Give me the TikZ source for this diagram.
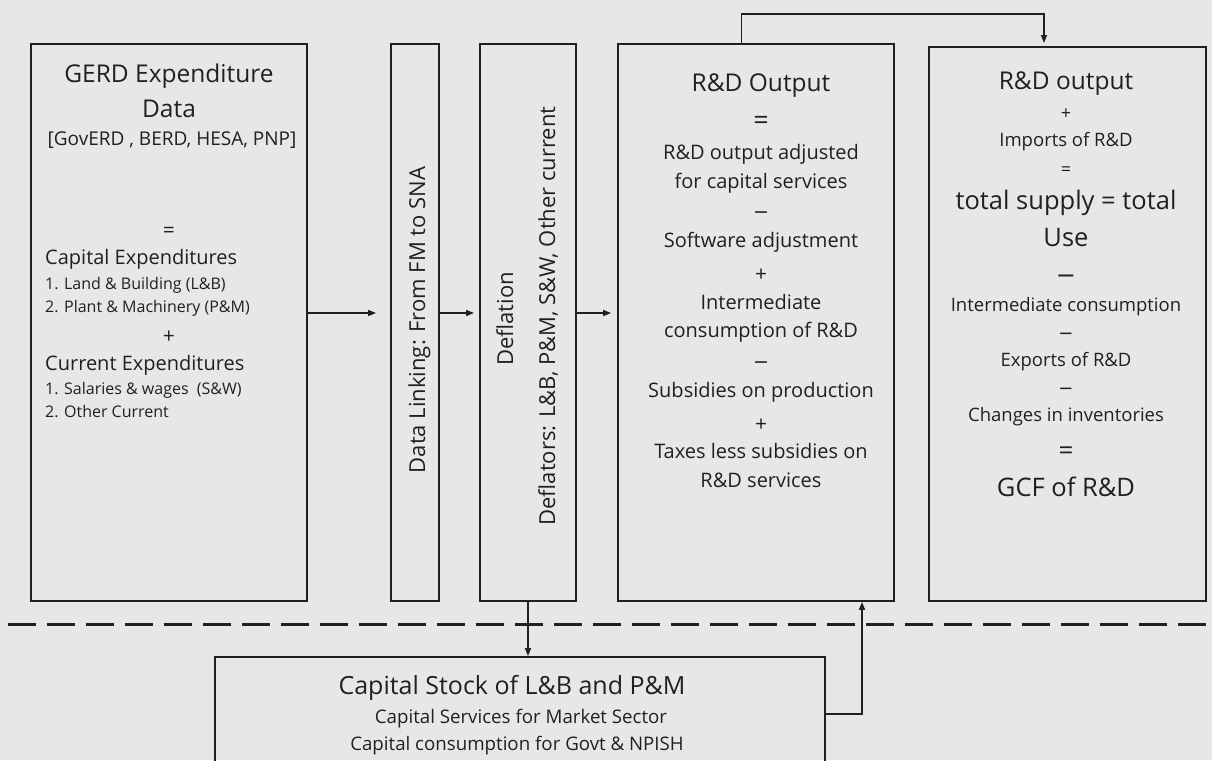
\documentclass[tikz,border=0pt]{standalone}
\usepackage{fontspec}
\setmainfont{Open Sans}
\newfontfamily\symfont{DejaVu Sans}
\usetikzlibrary{arrows.meta}
\definecolor{bg}{HTML}{E6E7E8}
\definecolor{ink}{HTML}{231F20}
\newcommand{\mns}{{\symfont\symbol{"2212}}}
\begin{document}
\begin{tikzpicture}[x=1pt,y=-1pt,
  box/.style={draw=ink, line width=1.9pt, inner sep=0pt, rectangle},
  txt/.style={anchor=base, inner sep=0pt, text=ink, font=\fontsize{#1}{#1}\selectfont},
  rtxt/.style={txt=#1, rotate=90},
  arr/.style={draw=ink, line width=1.4pt, -{Triangle[length=8pt,width=6pt]}},
  dashline/.style={draw=ink, line width=3pt, dash pattern=on 28pt off 11pt}]
\useasboundingbox (0,0) rectangle (1212,760);
\clip (0,0) rectangle (1212,760);
\fill[bg] (0,0) rectangle (1212,760);

% boxes
\node[box, minimum width=276pt, minimum height=557pt] (gerd) at (169,322.5) {};
\node[box, minimum width=48pt,  minimum height=557pt] (link) at (415,322.5) {};
\node[box, minimum width=96pt,  minimum height=557pt] (defl) at (528,322.5) {};
\node[box, minimum width=276pt, minimum height=557pt] (rdout) at (756,322.5) {};
\node[box, minimum width=277pt, minimum height=554pt] (rduse) at (1067.5,324) {};
\node[box, minimum width=610pt, minimum height=143pt] (cap) at (520,728.5) {};

% GERD box text
\node[txt=24.5] (g1) at (169,82) {GERD Expenditure};
\node[txt=24.5] (g2) at (169,117) {Data};
\node[txt=19] (g3) at (172,145) {[GovERD , BERD, HESA, PNP]};
\node[txt=21] (g4) at (169,237) {=};
\node[txt=20, anchor=base west] (g5) at (45,264) {Capital Expenditures};
\node[txt=16, anchor=base west] (g6) at (45,289) {1. Land \& Building (L\&B)};
\node[txt=16, anchor=base west] (g7) at (45,312) {2. Plant \& Machinery (P\&M)};
\node[txt=21] (g8) at (169,343) {+};
\node[txt=20, anchor=base west] (g9) at (45,370) {Current Expenditures};
\node[txt=16, anchor=base west] (g10) at (45,394) {1. Salaries \& wages\ \ (S\&W)};
\node[txt=16, anchor=base west] (g11) at (45,417) {2. Other Current};

% rotated texts
\node[rtxt=22] (l1) at (425,320) {Data Linking: From FM to SNA};
\node[rtxt=22] (d1) at (513,319) {Deflation};
\node[rtxt=22] (d2) at (555,316) {Deflators: L\&B, P\&M, S\&W, Other current};

% R&D Output box text
\node[txt=24.5] (r1) at (761,91) {R\&D Output};
\node[txt=27] (r2) at (761,129) {=};
\node[txt=20] (r3) at (761,159) {R\&D output adjusted};
\node[txt=20] (r4) at (761,188) {for capital services};
\node[txt=19] (r5) at (761,218) {\mns};
\node[txt=20] (r6) at (761,247) {Software adjustment};
\node[txt=21] (r7) at (761,281) {+};
\node[txt=20] (r8) at (761,309) {Intermediate};
\node[txt=20] (r9) at (761,337) {consumption of R\&D};
\node[txt=19] (r10) at (761,368) {\mns};
\node[txt=20] (r11) at (761,397) {Subsidies on production};
\node[txt=21] (r12) at (761,431) {+};
\node[txt=20] (r13) at (761,458) {Taxes less subsidies on};
\node[txt=20] (r14) at (761,487) {R\&D services};

% right box text
\node[txt=24.5] (u1) at (1066,89) {R\&D output};
\node[txt=18] (u2) at (1066,119.5) {+};
\node[txt=18.5] (u3) at (1066,146.7) {Imports of R\&D};
\node[txt=18] (u4) at (1066,175.5) {=};
\node[txt=25.5] (u5) at (1066,209) {total supply = total};
\node[txt=25.5] (u6) at (1066,246) {Use};
\node[txt=24] (u7) at (1066,283) {\mns};
\node[txt=18.5] (u8) at (1066,311.7) {Intermediate consumption};
\node[txt=18] (u9) at (1066,339) {\mns};
\node[txt=18.5] (u10) at (1066,366.7) {Exports of R\&D};
\node[txt=18] (u11) at (1066,394) {\mns};
\node[txt=18.5] (u12) at (1066,421.7) {Changes in inventories};
\node[txt=26] (u13) at (1066,459) {=};
\node[txt=25.5] (u14) at (1066,496) {GCF of R\&D};

% capital stock box text
\node[txt=25] (c1) at (512,694) {Capital Stock of L\&B and P\&M};
\node[txt=18.7] (c2) at (521,723.7) {Capital Services for Market Sector};
\node[txt=18.7] (c3) at (517,750.7) {Capital consumption for Govt \& NPISH};

% dashed separator
\coordinate (dl1) at (8,624);
\coordinate (dl2) at (1212,624);
\draw[dashline] (dl1) -- (dl2);

% connectors
\draw[arr, shorten >=14pt] (gerd.east |- 0,313) -- (link.west |- 0,313);
\draw[arr, shorten >=5pt] (link.east |- 0,313) -- (defl.west |- 0,313);
\draw[arr, shorten >=6pt] (defl.east |- 0,313) -- (rdout.west |- 0,313);
\draw[arr, shorten >=3pt] (741.7,0 |- rdout.north) -- (741.7,14) -- (1044,14) -- (1044,0 |- rduse.north);
\draw[arr] (defl.south) -- (defl.south |- cap.north);
\draw[arr] (cap.east |- 0,714) -- (862,714) -- (862,0 |- rdout.south);
\end{tikzpicture}
\end{document}
